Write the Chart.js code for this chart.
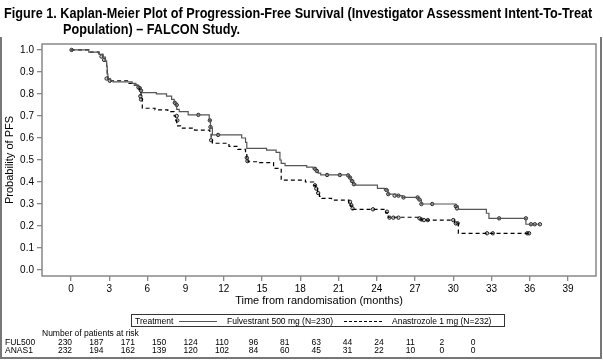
<!DOCTYPE html>
<html>
<head>
<meta charset="utf-8">
<script src="https://cdn.jsdelivr.net/npm/chart.js@4.4.1/dist/chart.umd.min.js"></script>
<style>
  body { margin: 0; background: #fff; }
  #wrap { position: relative; width: 603px; height: 361px; overflow: hidden; font-family: "Liberation Sans", Arial, sans-serif; color: #000; }
  #kmChart { position: absolute; left: 0; top: 0; }
  .t { position: absolute; white-space: nowrap; }
  .title { font-family: "Liberation Sans", Arial, sans-serif; font-weight: bold; font-size: 14px; line-height: 16px; transform-origin: 0 0; }
  .small { font-size: 8.5px; line-height: 10px; }
  .frame { position: absolute; background: #777; }
  #legendBox { position: absolute; left: 131px; top: 314px; width: 372px; height: 11px; border: 1px solid #333; }
  .num { position: absolute; width: 30px; text-align: center; font-size: 8.5px; line-height: 10px; }
</style>
</head>
<body>
<div id="wrap">
  <canvas id="kmChart" width="603" height="361"></canvas>

  <div id="title1" class="t title" style="left:4px; top:5px;">Figure 1. Kaplan-Meier Plot of Progression-Free Survival (Investigator Assessment Intent-To-Treat</div>
  <div id="title2" class="t title" style="left:63px; top:21px;">Population) – FALCON Study.</div>

  <div class="frame" style="left:0; top:37px; width:2px; height:322px;"></div>
  <div class="frame" style="left:600px; top:37px; width:2px; height:322px;"></div>
  <div class="frame" style="left:0; top:357px; width:602px; height:2px;"></div>

  <div id="legendBox">
    <span class="t small" style="left:3px; top:1px;">Treatment</span>
    <span style="position:absolute; left:47px; top:6px; width:38px; border-top:1px solid #555;"></span>
    <span class="t small" style="left:95px; top:1px;">Fulvestrant 500 mg (N=230)</span>
    <span style="position:absolute; left:212px; top:6px; width:38px; border-top:1px dashed #000;"></span>
    <span class="t small" style="left:260px; top:1px;">Anastrozole 1 mg (N=232)</span>
  </div>

  <div class="t small" style="left:42px; top:328px;">Number of patients at risk</div>
  <div class="t small" style="left:5px; top:337px;">FUL500</div>
  <div class="t small" style="left:5px; top:345px;">ANAS1</div>
  <div id="riskRows"></div>
</div>

<script>
// Kaplan-Meier step points (time in months, survival probability)
var fulTimes = [0, 1.4, 2.2, 2.5, 2.7, 2.8, 2.85, 2.9, 3.1, 3.3, 4.8, 5.1, 5.3, 5.5, 5.6, 6.7, 7.5, 7.9, 8.1, 8.3, 8.5, 9.2, 10.85, 10.95, 11.1, 13.4, 13.7, 13.8, 15.35, 16.1, 16.4, 16.5, 16.8, 18.5, 19.0, 19.2, 19.4, 19.6, 21.8, 22.0, 22.2, 22.35, 24.05, 24.6, 24.9, 25.5, 26.0, 27.3, 27.5, 30.2, 30.4, 32.6, 32.8, 35.7, 36.8];
var fulSurv  = [1.0, 0.99, 0.98, 0.968, 0.95, 0.925, 0.89, 0.87, 0.86, 0.855, 0.848, 0.84, 0.83, 0.82, 0.806, 0.80, 0.79, 0.775, 0.76, 0.73, 0.72, 0.705, 0.68, 0.645, 0.614, 0.60, 0.58, 0.553, 0.545, 0.535, 0.50, 0.485, 0.474, 0.468, 0.46, 0.45, 0.44, 0.432, 0.42, 0.405, 0.39, 0.386, 0.371, 0.364, 0.345, 0.338, 0.33, 0.318, 0.30, 0.29, 0.276, 0.258, 0.235, 0.208, 0.208];

var anaTimes = [0, 1.4, 2.2, 2.5, 2.7, 2.8, 2.85, 2.9, 3.1, 4.5, 4.9, 5.2, 5.4, 5.5, 5.6, 6.6, 7.6, 8.1, 8.2, 8.3, 8.6, 9.7, 10.9, 11.0, 11.1, 12.4, 13.1, 13.7, 13.8, 13.9, 14.8, 15.9, 16.5, 18.4, 19.05, 19.2, 19.35, 19.5, 19.7, 20.45, 21.8, 21.95, 22.1, 24.7, 24.9, 27.3, 27.5, 30.1, 30.4, 35.9];
var anaSurv  = [1.0, 0.99, 0.98, 0.97, 0.95, 0.92, 0.89, 0.87, 0.86, 0.848, 0.84, 0.83, 0.81, 0.78, 0.735, 0.728, 0.72, 0.70, 0.68, 0.655, 0.645, 0.636, 0.62, 0.59, 0.576, 0.562, 0.548, 0.53, 0.51, 0.492, 0.488, 0.462, 0.409, 0.40, 0.385, 0.37, 0.35, 0.335, 0.326, 0.318, 0.305, 0.29, 0.276, 0.26, 0.24, 0.232, 0.227, 0.212, 0.167, 0.167];

// censored observations
var fulCensorT = [0.05, 2.4, 2.6, 2.8, 3.05, 5.3, 5.4, 5.5, 8.15, 8.3, 10.0, 10.9, 10.95, 11.55, 19.15, 19.3, 20.1, 21.1, 21.75, 21.9, 22.05, 22.2, 24.75, 24.9, 25.4, 25.7, 26.1, 27.2, 27.35, 27.5, 28.35, 30.2, 30.3, 33.6, 35.7, 36.1, 36.4, 36.8];
var fulCensorS = [1.0, 0.97, 0.955, 0.87, 0.86, 0.83, 0.825, 0.815, 0.76, 0.75, 0.705, 0.68, 0.65, 0.614, 0.46, 0.45, 0.432, 0.432, 0.43, 0.42, 0.405, 0.39, 0.364, 0.345, 0.338, 0.338, 0.33, 0.33, 0.32, 0.30, 0.30, 0.29, 0.28, 0.235, 0.235, 0.208, 0.208, 0.208];
var anaCensorT = [5.45, 5.5, 8.3, 8.35, 11.0, 13.8, 13.85, 19.15, 19.25, 19.4, 21.9, 22.0, 22.1, 23.7, 24.8, 25.0, 25.3, 25.7, 27.35, 27.5, 27.7, 28.0, 30.0, 30.2, 30.35, 32.65, 33.1, 35.8, 35.95];
var anaCensorS = [0.79, 0.775, 0.70, 0.68, 0.59, 0.51, 0.495, 0.385, 0.37, 0.35, 0.31, 0.295, 0.28, 0.276, 0.265, 0.238, 0.238, 0.238, 0.235, 0.23, 0.227, 0.227, 0.227, 0.212, 0.212, 0.167, 0.167, 0.167, 0.167];

var xTicks = [0, 3, 6, 9, 12, 15, 18, 21, 24, 27, 30, 33, 36, 39];
var yTicks = [0, 0.1, 0.2, 0.3, 0.4, 0.5, 0.6, 0.7, 0.8, 0.9, 1.0];

var riskFul = [230, 187, 171, 150, 124, 110, 96, 81, 63, 44, 24, 11, 2, 0];
var riskAna = [232, 194, 162, 139, 120, 102, 84, 60, 45, 31, 22, 10, 0, 0];

function toPoints(ts, vs) {
    return ts.map(function (t, i) { return { x: t, y: vs[i] }; });
}

// squeeze the title so line 1 spans the figure width (condensed look)
var t1 = document.getElementById('title1');
var sx = 588 / t1.scrollWidth;
t1.style.transform = 'scaleX(' + sx + ')';
document.getElementById('title2').style.transform = 'scaleX(' + sx + ')';

// number at risk rows
var rows = document.getElementById('riskRows');
[[riskFul, 337], [riskAna, 345]].forEach(function (r) {
    r[0].forEach(function (n, i) {
        var d = document.createElement('div');
        d.className = 'num';
        d.style.left = (65 + 31.4 * i - 15) + 'px';
        d.style.top = r[1] + 'px';
        d.textContent = n;
        rows.appendChild(d);
    });
});

var frameLine = {
    id: 'frameLine',
    afterDraw: function (chart) {
        var a = chart.chartArea, c = chart.ctx;
        c.save();
        c.strokeStyle = '#888';
        c.lineWidth = 1.5;
        c.strokeRect(a.left, a.top, a.right - a.left, a.bottom - a.top);
        c.restore();
    }
};

var censorStyle = {
    type: 'scatter',
    pointRadius: 1.7,
    pointBorderWidth: 1,
    pointBorderColor: '#222',
    pointBackgroundColor: 'rgba(90,90,90,0.3)'
};

var ctx = document.getElementById('kmChart').getContext('2d');
var kmChart = new Chart(ctx, {
    type: 'line',
    data: {
        datasets: [{
            label: 'Fulvestrant 500 mg (N=230)',
            data: toPoints(fulTimes, fulSurv),
            stepped: 'before',
            borderColor: '#555',
            borderWidth: 1.2,
            pointRadius: 0,
            fill: false
        }, {
            label: 'Anastrozole 1 mg (N=232)',
            data: toPoints(anaTimes, anaSurv),
            stepped: 'before',
            borderColor: '#000',
            borderDash: [4, 3],
            borderWidth: 1.2,
            pointRadius: 0,
            fill: false
        },
        Object.assign({ label: 'FUL censored', data: toPoints(fulCensorT, fulCensorS) }, censorStyle),
        Object.assign({ label: 'ANA censored', data: toPoints(anaCensorT, anaCensorS) }, censorStyle)]
    },
    options: {
        responsive: false,
        animation: false,
        devicePixelRatio: 1,
        layout: { padding: { left: 0, top: 44, right: 7, bottom: 0 } },
        plugins: { legend: { display: false }, tooltip: { enabled: false } },
        scales: {
            x: {
                type: 'linear',
                min: -2.27,
                max: 41.2,
                afterBuildTicks: function (s) { s.ticks = xTicks.map(function (v) { return { value: v }; }); },
                afterFit: function (s) { s.height = 85; },
                ticks: { color: '#000', font: { family: 'Liberation Sans', size: 10 }, padding: 2 },
                grid: { drawOnChartArea: false, tickLength: 5, color: '#888', lineWidth: 1.3 },
                border: { display: false },
                title: {
                    display: true,
                    text: 'Time from randomisation (months)',
                    color: '#000',
                    font: { family: 'Liberation Sans', size: 11 },
                    padding: { top: 0, bottom: 53 }
                }
            },
            y: {
                min: -0.027,
                max: 1.027,
                afterBuildTicks: function (s) { s.ticks = yTicks.map(function (v) { return { value: v }; }); },
                afterFit: function (s) { s.width = 42; },
                ticks: {
                    color: '#000',
                    font: { family: 'Liberation Sans', size: 10 },
                    padding: 3,
                    callback: function (v) { return v.toFixed(1); }
                },
                grid: { drawOnChartArea: false, tickLength: 5, color: '#888', lineWidth: 1.3 },
                border: { display: false },
                title: {
                    display: true,
                    text: 'Probability of PFS',
                    color: '#000',
                    font: { family: 'Liberation Sans', size: 11 },
                    padding: { top: 3, bottom: 0 }
                }
            }
        }
    },
    plugins: [frameLine]
});
</script>
</body>
</html>
